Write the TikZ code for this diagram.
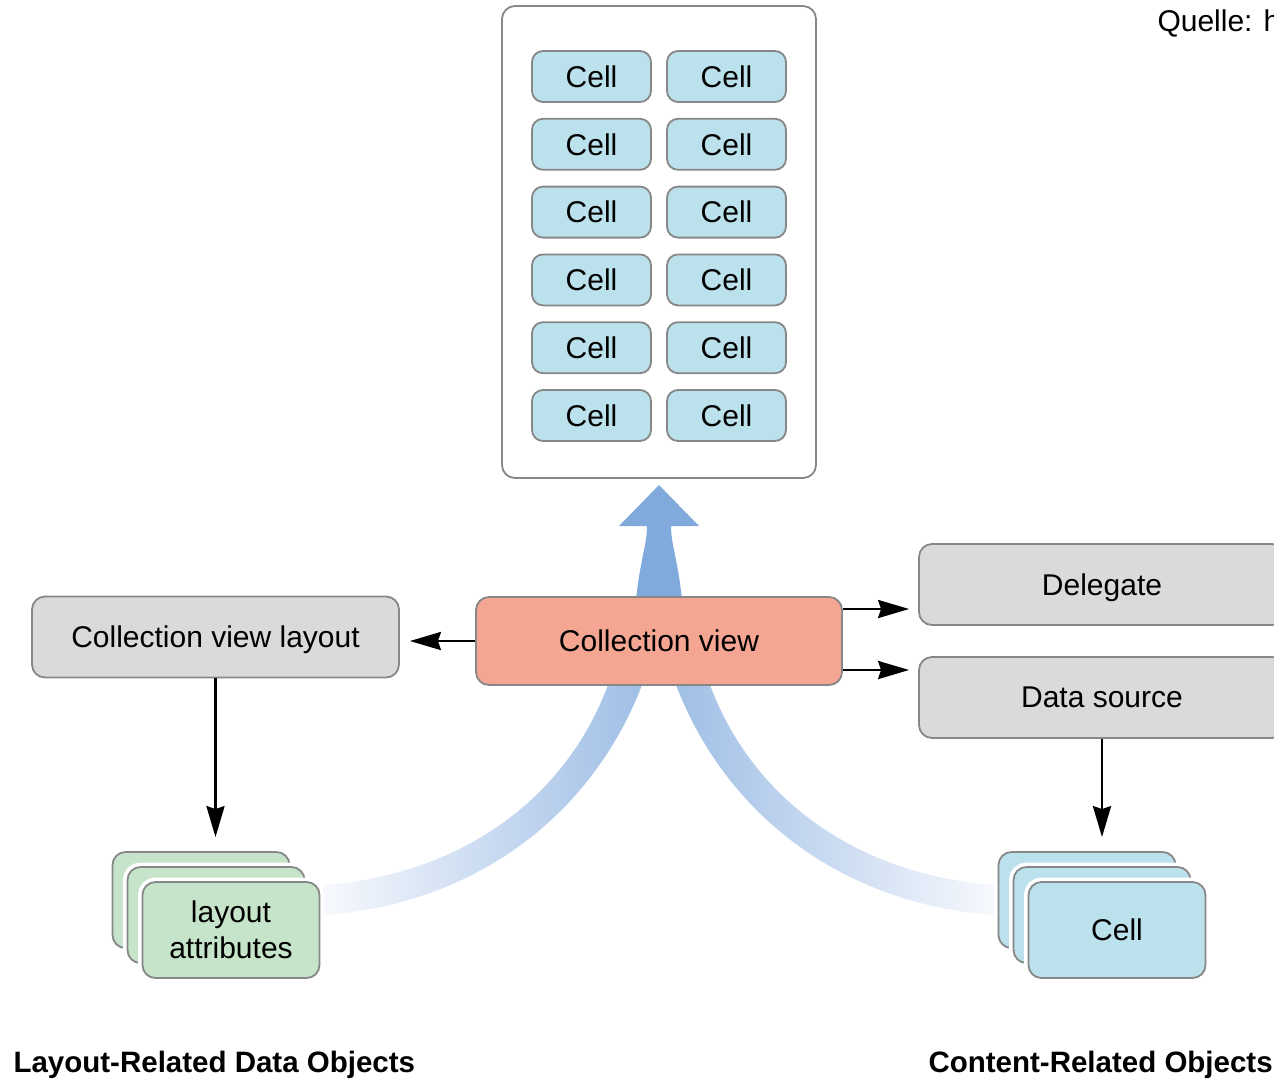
\documentclass[tikz,border=0pt]{standalone}
\usepackage{fontspec}
\setmainfont{Liberation Sans}
\usetikzlibrary{arrows.meta}

\definecolor{cellblue}{HTML}{BBE1EC}
\definecolor{boxgray}{HTML}{DADADA}
\definecolor{salmon}{HTML}{F4A693}
\definecolor{attrgreen}{HTML}{C6E4C9}
\definecolor{edgegray}{HTML}{878787}
\definecolor{flowblue}{HTML}{80AADB}
\definecolor{bandblue}{HTML}{A0BFE6}
\definecolor{bandpale}{HTML}{F7F9FD}

\tikzset{
  box/.style={draw=edgegray, line width=1.8pt, rounded corners=13pt, inner sep=0pt,
    font=\fontsize{30}{36}\selectfont, align=center},
  cellbox/.style={box, fill=cellblue, minimum width=119pt, minimum height=51pt,
    rounded corners=11pt},
  graybox/.style={box, fill=boxgray, minimum width=366pt, minimum height=81pt, text depth=0pt},
  card/.style={box, minimum width=177pt, minimum height=96pt,
    preaction={draw=white, line width=9pt}},
  link/.style={-{Stealth[length=31pt, width=18pt, inset=3pt]}, line width=2.8pt},
  caption/.style={anchor=base west, font=\fontsize{29.5}{36}\selectfont\bfseries},
}

\begin{document}
\begin{tikzpicture}[x=1pt, y=-1pt]
\clip (0,0) rectangle (1274,1080);

% flows towards the collection view
\shade[left color=bandpale, right color=bandblue]
  (323,885) .. controls (460,875) and (565,800) .. (608,685) -- (608,650) -- (642,650)
  -- (642,685) .. controls (590,820) and (470,905) .. (323,915) -- cycle;
\shade[left color=bandblue, right color=bandpale]
  (995,885) .. controls (858,875) and (753,800) .. (710,685) -- (710,650) -- (676,650)
  -- (676,685) .. controls (728,820) and (848,905) .. (995,915) -- cycle;
\fill[flowblue] (636,650) -- (636,600) .. controls (640,560) and (647,545) .. (647,526)
  -- (619,526) -- (659,485) -- (699,526) -- (671,526)
  .. controls (671,545) and (678,560) .. (682,600) -- (682,650) -- cycle;

% visible cells
\node[box, fill=white, minimum width=314pt, minimum height=472pt] (grid) at (659,242) {};
\node[cellbox] (c11) at (591.5,76.5) {Cell};
\node[cellbox] (c12) at (726.5,76.5) {Cell};
\node[cellbox] (c21) at (591.5,144.3) {Cell};
\node[cellbox] (c22) at (726.5,144.3) {Cell};
\node[cellbox] (c31) at (591.5,212.1) {Cell};
\node[cellbox] (c32) at (726.5,212.1) {Cell};
\node[cellbox] (c41) at (591.5,279.9) {Cell};
\node[cellbox] (c42) at (726.5,279.9) {Cell};
\node[cellbox] (c51) at (591.5,347.7) {Cell};
\node[cellbox] (c52) at (726.5,347.7) {Cell};
\node[cellbox] (c61) at (591.5,415.5) {Cell};
\node[cellbox] (c62) at (726.5,415.5) {Cell};

% objects
\node[graybox, fill=salmon, minimum height=88pt] (cv) at (659,641) {Collection view};
\node[graybox, minimum width=367pt] (cvl) at (215.5,637) {Collection view layout};
\node[graybox] (delegate) at (1102,584.5) {Delegate};
\node[graybox] (source) at (1102,697.5) {Data source};

\node[card, fill=attrgreen] (attr1) at (201,900) {};
\node[card, fill=attrgreen] (attr2) at (216,915) {};
\node[card, fill=attrgreen] (attr3) at (231,930) {layout\\attributes};

\node[card, fill=cellblue] (cell1) at (1087,900) {};
\node[card, fill=cellblue] (cell2) at (1102,915) {};
\node[card, fill=cellblue] (cell3) at (1117,930) {Cell};

\draw[link, shorten >=10pt] (cv.west) -- (cv.west -| cvl.east);
\draw[link, shorten >=9pt] ([yshift=32pt]cv.east) -- ([yshift=32pt]cv.east -| delegate.west);
\draw[link, shorten >=9pt] ([yshift=-29pt]cv.east) -- ([yshift=-29pt]cv.east -| source.west);
\draw[link, shorten >=14pt] (cvl.south) -- (cvl.south |- attr1.north);
\draw[link, shorten >=14pt] (source.south) -- (source.south |- cell1.north);

% captions
\node[caption] (layoutcap) at (10,1072) {Layout-Related Data Objects};
\node[caption] (contentcap) at (925,1072) {Content-Related Objects};
\node[anchor=base west, font=\fontsize{30}{36}\selectfont] (quelle) at (1154,31) {Quelle: h};
\end{tikzpicture}
\end{document}
